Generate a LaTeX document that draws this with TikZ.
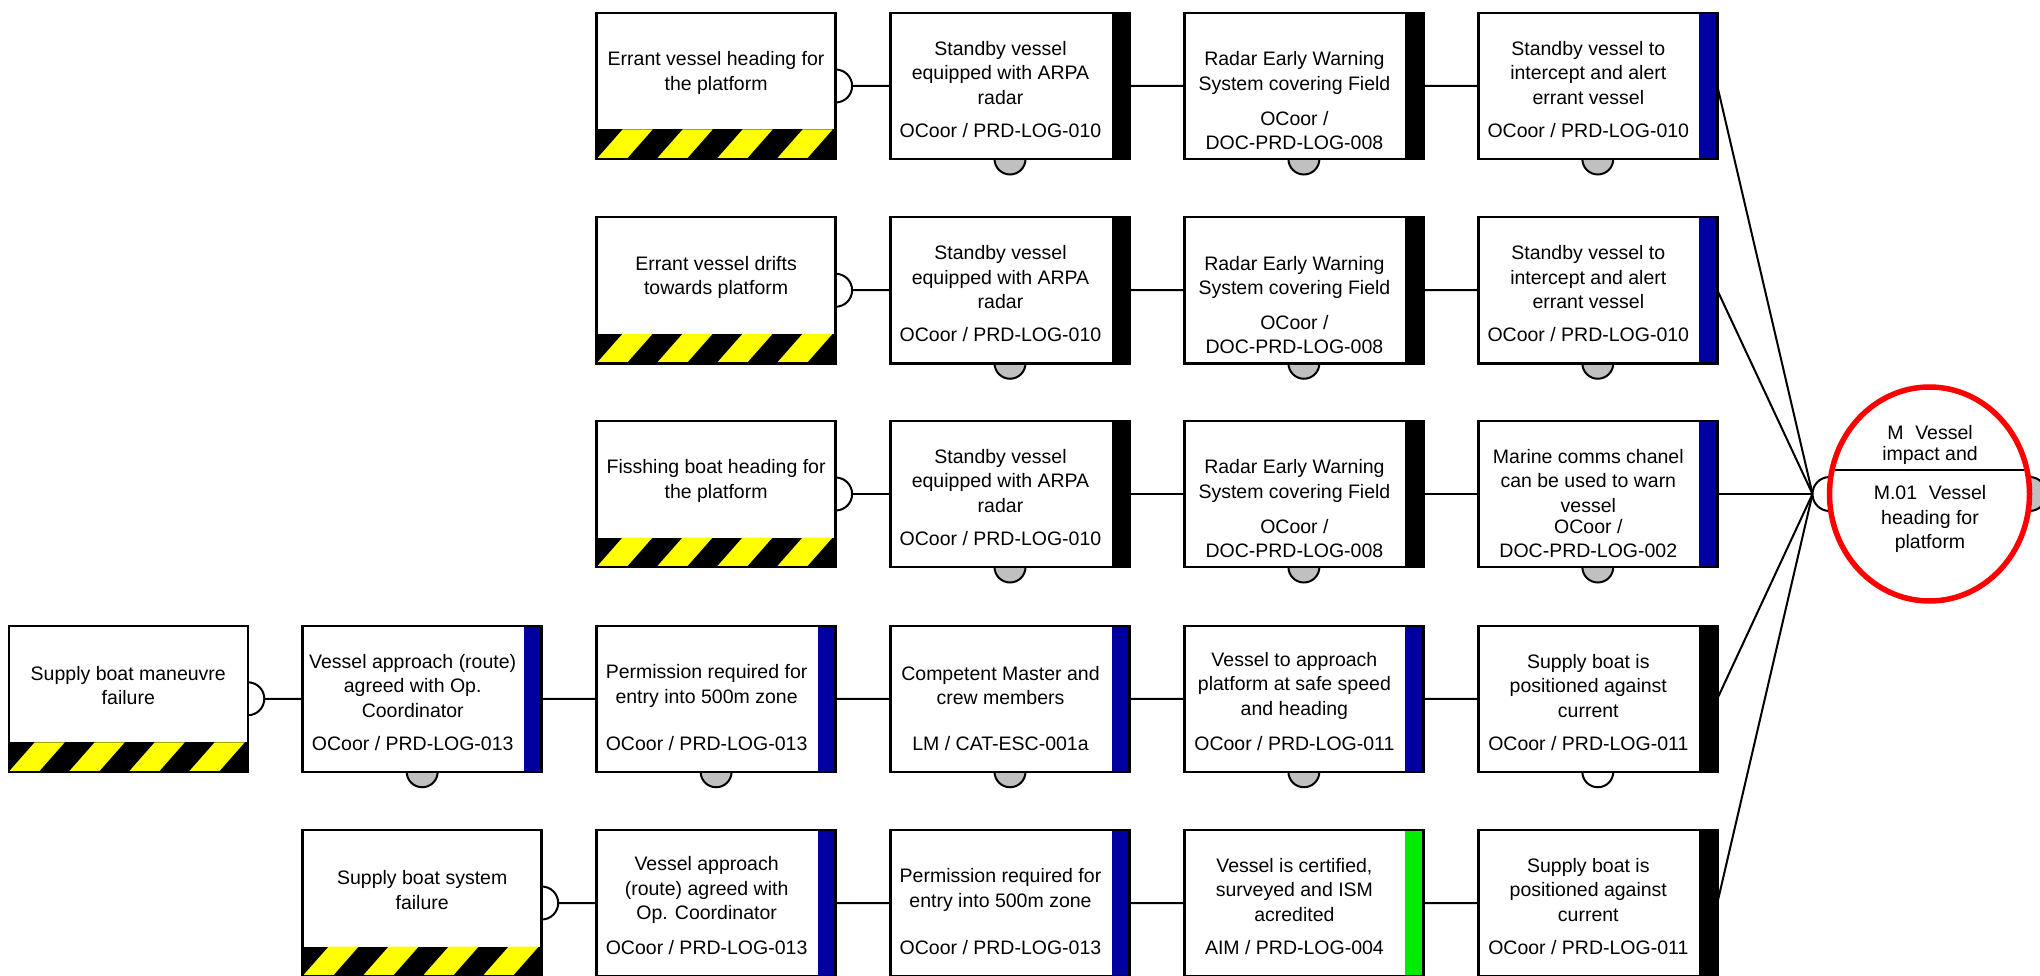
\documentclass[tikz,border=0pt]{standalone}
\usepackage{fontspec}
\setmainfont{Liberation Sans}
\usetikzlibrary{shapes.geometric,backgrounds}

\definecolor{barnavy}{RGB}{0,0,160}
\definecolor{bargreen}{RGB}{0,235,0}
\definecolor{bumpgray}{RGB}{192,192,192}
\definecolor{hazyellow}{RGB}{255,255,0}

\tikzset{
  boxline/.style={line width=2.5pt},
  wire/.style={line width=2pt},
  boxtext/.style={align=center, inner sep=0pt, font=\fontsize{19.5}{24.5}\selectfont},
  bump/.style={circle, draw, line width=2pt, minimum size=31pt, inner sep=0pt, outer sep=0pt},
  barrier/.style={rectangle, draw, boxline, fill=white, minimum width=239pt,
    minimum height=146pt, inner sep=0pt, outer sep=0pt,
    path picture={\fill[#1] ([xshift=-18pt]path picture bounding box.north east)
      rectangle (path picture bounding box.south east);}},
  threat/.style={rectangle, draw, boxline, fill=white, minimum width=239pt,
    minimum height=146pt, inner sep=0pt, outer sep=0pt},
}

% threat box with hazard band and right-hand bump: name, x, y, text
\newcommand\threatat[4]{%
  \node[bump, fill=white, minimum size=33pt] (#1-bump) at ({#2+119.5},#3) {};
  \node[threat] (#1) at (#2,#3) {};
  \begin{scope}
    \clip ({#2-119.5},{#3+43.5}) rectangle ({#2+119.5},{#3+73});
    \fill[black] ({#2-119.5},{#3+43.5}) rectangle ({#2+119.5},{#3+73});
    \foreach \k in {0,1,2,3}{
      \fill[hazyellow] ({#2-119.5+60*\k},{#3+73}) -- ++(30,0) -- ++(26,-29.5) -- ++(-30,0) -- cycle;
    }
  \end{scope}
  \draw[boxline] (#1.north west) rectangle (#1.south east);
  \node[boxtext] (#1-text) at (#2,{#3-13}) {#4};
}
% barrier box: name, x, y, description, reference, bar colour, bump colour
\newcommand\barrierat[7]{%
  \node[bump, fill=#7] (#1-bump) at (#2,{#3+73}) {};
  \node[barrier=#6] (#1) at (#2,#3) {};
  \node[boxtext] (#1-desc) at ({#2-9.5},{#3-13}) {#4};
  \node[boxtext] (#1-code) at ({#2-9.5},{#3+44.5}) {#5};
}

\begin{document}
\begin{tikzpicture}[x=1pt, y=-1pt]
\useasboundingbox (0,0) rectangle (2040,976);

% row 1
\threatat{t1}{716.1}{86}{Errant vessel heading for\\the platform}
\barrierat{b13}{1010}{86}{Standby vessel\\equipped with ARPA\\radar}{OCoor / PRD-LOG-010}{black}{bumpgray}
\barrierat{b14}{1303.9}{86}{Radar Early Warning\\System covering Field}{OCoor /\\DOC-PRD-LOG-008}{black}{bumpgray}
\barrierat{b15}{1597.8}{86}{Standby vessel to\\intercept and alert\\errant vessel}{OCoor / PRD-LOG-010}{barnavy}{bumpgray}

% row 2
\threatat{t2}{716.1}{290.25}{Errant vessel drifts\\towards platform}
\barrierat{b23}{1010}{290.25}{Standby vessel\\equipped with ARPA\\radar}{OCoor / PRD-LOG-010}{black}{bumpgray}
\barrierat{b24}{1303.9}{290.25}{Radar Early Warning\\System covering Field}{OCoor /\\DOC-PRD-LOG-008}{black}{bumpgray}
\barrierat{b25}{1597.8}{290.25}{Standby vessel to\\intercept and alert\\errant vessel}{OCoor / PRD-LOG-010}{barnavy}{bumpgray}

% row 3
\threatat{t3}{716.1}{494}{Fisshing boat heading for\\the platform}
\barrierat{b33}{1010}{494}{Standby vessel\\equipped with ARPA\\radar}{OCoor / PRD-LOG-010}{black}{bumpgray}
\barrierat{b34}{1303.9}{494}{Radar Early Warning\\System covering Field}{OCoor /\\DOC-PRD-LOG-008}{black}{bumpgray}
\barrierat{b35}{1597.8}{494}{Marine comms chanel\\can be used to warn\\vessel}{OCoor /\\DOC-PRD-LOG-002}{barnavy}{bumpgray}

% row 4
\threatat{t4}{128.3}{698.75}{Supply boat maneuvre\\failure}
\barrierat{b41}{422.2}{698.75}{Vessel approach (route)\\agreed with Op.\\Coordinator}{OCoor / PRD-LOG-013}{barnavy}{bumpgray}
\barrierat{b42}{716.1}{698.75}{Permission required for\\entry into 500m zone}{OCoor / PRD-LOG-013}{barnavy}{bumpgray}
\barrierat{b43}{1010}{698.75}{Competent Master and\\crew members}{LM / CAT-ESC-001a}{barnavy}{bumpgray}
\barrierat{b44}{1303.9}{698.75}{Vessel to approach\\platform at safe speed\\and heading}{OCoor / PRD-LOG-011}{barnavy}{bumpgray}
\barrierat{b45}{1597.8}{698.75}{Supply boat is\\positioned against\\current}{OCoor / PRD-LOG-011}{black}{white}

% row 5
\threatat{t5}{422.2}{903}{Supply boat system\\failure}
\barrierat{b52}{716.1}{903}{Vessel approach\\(route) agreed with\\Op. Coordinator}{OCoor / PRD-LOG-013}{barnavy}{bumpgray}
\barrierat{b53}{1010}{903}{Permission required for\\entry into 500m zone}{OCoor / PRD-LOG-013}{barnavy}{bumpgray}
\barrierat{b54}{1303.9}{903}{Vessel is certified,\\surveyed and ISM\\acredited}{AIM / PRD-LOG-004}{bargreen}{bumpgray}
\barrierat{b55}{1597.8}{903}{Supply boat is\\positioned against\\current}{OCoor / PRD-LOG-011}{black}{bumpgray}

% top event
\node[bump, fill=white, minimum size=34pt] (event-in) at (1829.5,494) {};
\node[bump, fill=bumpgray, minimum size=34pt] (event-out) at (2029.5,494) {};
\node[ellipse, draw=red, line width=5.5pt, fill=white, minimum width=200pt,
      minimum height=214pt, inner sep=0pt, outer sep=0pt] (event) at (1929.5,494) {};
\draw[wire] ([xshift=-94.5pt,yshift=24.5pt]event.center) -- ([xshift=94.5pt,yshift=24.5pt]event.center);
\node[boxtext, font=\fontsize{19.5}{21}\selectfont] (event-top) at (1930,445) {M\hspace{0.6em}Vessel\\impact and};
\node[boxtext] (event-bottom) at (1930,519) {M.01\hspace{0.6em}Vessel\\heading for\\platform};
\coordinate (conv) at ([xshift=-17pt]event.west);

% connectors
\begin{scope}[on background layer]
  \draw[wire] (t1-bump.east) -- (b13.west) (b13.east) -- (b14.west) (b14.east) -- (b15.west) (b15.east) -- (conv);
  \draw[wire] (t2-bump.east) -- (b23.west) (b23.east) -- (b24.west) (b24.east) -- (b25.west) (b25.east) -- (conv);
  \draw[wire] (t3-bump.east) -- (b33.west) (b33.east) -- (b34.west) (b34.east) -- (b35.west) (b35.east) -- (conv);
  \draw[wire] (t4-bump.east) -- (b41.west) (b41.east) -- (b42.west) (b42.east) -- (b43.west)
              (b43.east) -- (b44.west) (b44.east) -- (b45.west) (b45.east) -- (conv);
  \draw[wire] (t5-bump.east) -- (b52.west) (b52.east) -- (b53.west) (b53.east) -- (b54.west)
              (b54.east) -- (b55.west) (b55.east) -- (conv);
\end{scope}
\end{tikzpicture}
\end{document}
